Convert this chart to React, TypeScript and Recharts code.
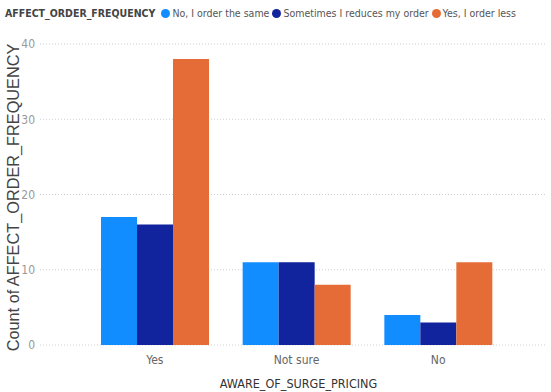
import React from "react";
import { BarChart, Bar, XAxis, YAxis, CartesianGrid } from "recharts";

const categories = ["Yes", "Not sure", "No"];
const sameValues = [17, 11, 4];
const sometimesValues = [16, 11, 3];
const lessValues = [38, 8, 11];
const yTicks = [0, 10, 20, 30, 40];

const seriesNames = ["No, I order the same", "Sometimes I reduces my order", "Yes, I order less"];
const seriesColors = ["#118DFF", "#12239E", "#E66C37"];

const data = categories.map((c, i) => ({
  name: c,
  same: sameValues[i],
  sometimes: sometimesValues[i],
  less: lessValues[i],
}));

const condensed = "'DejaVu Sans Condensed', 'Liberation Sans Narrow', sans-serif";

const LegendBlock = () => (
  <div
    style={{
      position: "absolute",
      left: 5,
      top: 7,
      display: "flex",
      alignItems: "center",
      fontFamily: condensed,
      fontSize: 10.5,
      color: "#555",
      whiteSpace: "nowrap",
      zIndex: 2,
    }}
  >
    <span style={{ fontWeight: 600, color: "#444", marginRight: 6 }}>AFFECT_ORDER_FREQUENCY</span>
    {seriesNames.map((n, i) => (
      <span key={n} style={{ display: "inline-flex", alignItems: "center", marginRight: 3 }}>
        <span style={{ width: 9, height: 9, borderRadius: "50%", background: seriesColors[i], display: "inline-block", marginRight: 2 }} />
        {n}
      </span>
    ))}
  </div>
);

export default function App() {
  return (
    <div style={{ position: "absolute", left: 0, top: 0, width: 551, height: 392, background: "#fff" }}>
      <LegendBlock />
      <BarChart
        width={551}
        height={392}
        data={data}
        margin={{ top: 44, right: 6, bottom: 17, left: 0 }}
        barCategoryGap="12%"
        barGap={0}
      >
        <CartesianGrid vertical={false} stroke="#cfcfcf" strokeDasharray="1 2" />
        <XAxis
          dataKey="name"
          height={30}
          axisLine={false}
          tickLine={false}
          tickSize={0}
          padding={{ left: 44, right: 36 }}
          tick={{ fill: "#666", fontSize: 12, fontFamily: condensed }}
          tickMargin={10}
          label={{ value: "AWARE_OF_SURGE_PRICING", position: "insideBottom", offset: -13, dx: 6, fill: "#333", fontSize: 12.5, fontFamily: condensed }}
        />
        <YAxis
          width={40}
          domain={[0, 40]}
          ticks={yTicks}
          axisLine={false}
          tickLine={false}
          tickSize={0}
          tick={{ fill: "#999", fontSize: 12, fontFamily: condensed }}
          tickMargin={5}
          label={{ value: "Count of AFFECT_ORDER_FREQUENCY", angle: -90, position: "center", dx: -7, dy: 3, fill: "#444", fontSize: 16.3, fontFamily: "'Liberation Sans', Arial, sans-serif" }}
        />
        <Bar dataKey="same" name={seriesNames[0]} fill={seriesColors[0]} isAnimationActive={false} />
        <Bar dataKey="sometimes" name={seriesNames[1]} fill={seriesColors[1]} isAnimationActive={false} />
        <Bar dataKey="less" name={seriesNames[2]} fill={seriesColors[2]} isAnimationActive={false} />
      </BarChart>
    </div>
  );
}
